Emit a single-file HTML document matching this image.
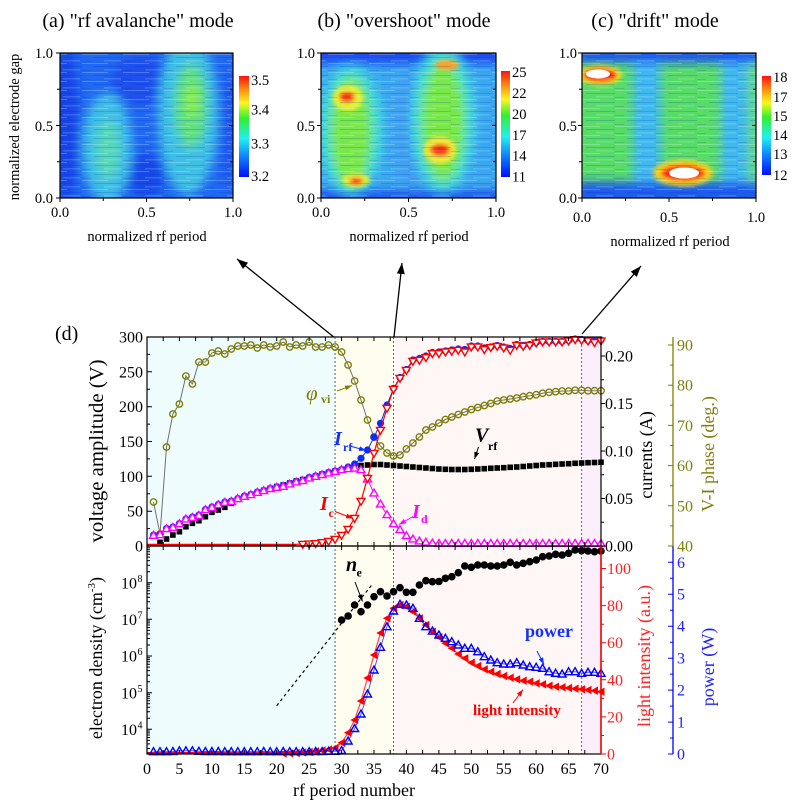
<!DOCTYPE html>
<html><head><meta charset="utf-8"><style>html,body{margin:0;padding:0;background:#fff}svg{display:block}</style></head>
<body>
<svg width="800" height="806" viewBox="0 0 800 806" xmlns="http://www.w3.org/2000/svg" font-family="'Liberation Serif', serif">
<defs>
<filter id="b5" x="-30%" y="-30%" width="160%" height="160%"><feGaussianBlur stdDeviation="5"/></filter>
<filter id="b2" x="-50%" y="-50%" width="200%" height="200%"><feGaussianBlur stdDeviation="2"/></filter>
<clipPath id="cA"><rect x="60" y="53" width="173" height="145"/></clipPath>
<clipPath id="cB"><rect x="321" y="53" width="175" height="145"/></clipPath>
<clipPath id="cC"><rect x="582" y="53" width="174" height="145"/></clipPath>
<pattern id="streak" width="41" height="9" patternUnits="userSpaceOnUse">
<rect x="0" y="0" width="26" height="1" fill="#fff" opacity="0.22"/>
<rect x="12" y="3" width="29" height="1" fill="#0020b0" opacity="0.18"/>
<rect x="22" y="6" width="17" height="1.5" fill="#fff" opacity="0.15"/>
<rect x="0" y="7" width="9" height="1" fill="#0020b0" opacity="0.15"/>
</pattern>
<linearGradient id="jet" x1="0" y1="0" x2="0" y2="1">
<stop offset="0" stop-color="#ff1010"/><stop offset="0.12" stop-color="#ff8010"/><stop offset="0.27" stop-color="#f8f820"/><stop offset="0.42" stop-color="#30f030"/><stop offset="0.62" stop-color="#20f0f0"/><stop offset="0.8" stop-color="#1080ff"/><stop offset="1" stop-color="#0010ff"/>
</linearGradient>
<marker id="mOl" markerUnits="userSpaceOnUse" markerWidth="12" markerHeight="12" refX="6" refY="6"><circle cx="6" cy="6" r="3.2" fill="none" stroke="#7f7f00" stroke-width="1.4"/></marker>
<marker id="mSq" markerUnits="userSpaceOnUse" markerWidth="12" markerHeight="12" refX="6" refY="6"><rect x="3.2" y="3.2" width="5.6" height="5.6" fill="#000"/></marker>
<marker id="mMa" markerUnits="userSpaceOnUse" markerWidth="12" markerHeight="12" refX="6" refY="6"><path d="M6 1.8L10 8.6H2Z" fill="#fff" stroke="#f0f" stroke-width="1.4"/></marker>
<marker id="mBc" markerUnits="userSpaceOnUse" markerWidth="12" markerHeight="12" refX="6" refY="6"><circle cx="6" cy="6" r="3.6" fill="#0a2cff"/></marker>
<marker id="mRd" markerUnits="userSpaceOnUse" markerWidth="12" markerHeight="12" refX="6" refY="6"><path d="M6 10.2L10 3.4H2Z" fill="#fff" stroke="#f00" stroke-width="1.4"/></marker>
<marker id="mKc" markerUnits="userSpaceOnUse" markerWidth="12" markerHeight="12" refX="6" refY="6"><circle cx="6" cy="6" r="3.8" fill="#000"/></marker>
<marker id="mRl" markerUnits="userSpaceOnUse" markerWidth="12" markerHeight="12" refX="6" refY="6"><path d="M1.8 6L9.5 1.8V10.2Z" fill="#f00"/></marker>
<marker id="mBt" markerUnits="userSpaceOnUse" markerWidth="12" markerHeight="12" refX="6" refY="6"><path d="M6 2L10 9H2Z" fill="none" stroke="#00f" stroke-width="1.4"/></marker>
<marker id="ahK" markerUnits="userSpaceOnUse" markerWidth="12" markerHeight="10" refX="11" refY="4" orient="auto"><path d="M0 0L11 4L0 8Z" fill="#000"/></marker>
<marker id="ahk" markerUnits="userSpaceOnUse" markerWidth="8" markerHeight="6" refX="7" refY="2.5" orient="auto"><path d="M0 0L7 2.5L0 5Z" fill="#000"/></marker>
<marker id="ahO" markerUnits="userSpaceOnUse" markerWidth="8" markerHeight="6" refX="7" refY="2.5" orient="auto"><path d="M0 0L7 2.5L0 5Z" fill="#7f7f00"/></marker>
<marker id="ahB" markerUnits="userSpaceOnUse" markerWidth="8" markerHeight="6" refX="7" refY="2.5" orient="auto"><path d="M0 0L7 2.5L0 5Z" fill="#1030ff"/></marker>
<marker id="ahR" markerUnits="userSpaceOnUse" markerWidth="8" markerHeight="6" refX="7" refY="2.5" orient="auto"><path d="M0 0L7 2.5L0 5Z" fill="#f00"/></marker>
<marker id="ahM" markerUnits="userSpaceOnUse" markerWidth="8" markerHeight="6" refX="7" refY="2.5" orient="auto"><path d="M0 0L7 2.5L0 5Z" fill="#f0f"/></marker>
</defs>

<!-- ===== Heatmap titles ===== -->
<text x="138" y="27" font-size="20" text-anchor="middle">(a) "rf avalanche" mode</text>
<text x="404" y="27" font-size="20" text-anchor="middle">(b) "overshoot" mode</text>
<text x="655" y="27" font-size="20" text-anchor="middle">(c) "drift" mode</text>

<!-- ===== Heatmap (a) ===== -->
<g clip-path="url(#cA)">
<rect x="60" y="53" width="173" height="145" fill="#2068f2"/>
<g filter="url(#b5)">
<ellipse cx="66" cy="125" rx="12" ry="80" fill="#1545e6"/>
<ellipse cx="145" cy="175" rx="20" ry="22" fill="#1848e8"/>
<ellipse cx="140" cy="80" rx="28" ry="25" fill="#1a50ec"/>
<ellipse cx="107" cy="148" rx="25" ry="55" fill="#3cbde6"/>
<ellipse cx="108" cy="150" rx="12" ry="30" fill="#55d8b8"/>
<ellipse cx="188" cy="115" rx="30" ry="80" fill="#3cc0e4"/>
<ellipse cx="191" cy="106" rx="16" ry="42" fill="#5fe07a"/>
<ellipse cx="192" cy="100" rx="7" ry="16" fill="#88ee44"/>
<ellipse cx="229" cy="130" rx="7" ry="60" fill="#1a55ee"/>
</g>
<rect x="60" y="53" width="173" height="145" fill="url(#streak)"/>
</g>
<rect x="60" y="53" width="173" height="145" fill="none" stroke="#000" stroke-width="1.2"/>
<path d="M60 53h-4M60 89.25h-3M60 125.5h-4M60 161.75h-3M60 198h-4M60 198v4M103.25 198v3M146.5 198v4M189.75 198v3M233 198v4M233 89.25h-3M233 125.5h-4M233 161.75h-3" stroke="#000" stroke-width="1"/>
<rect x="239" y="76" width="10" height="101" fill="url(#jet)"/>
<g font-size="14.5">
<text x="53" y="58" text-anchor="end">1.0</text><text x="53" y="131" text-anchor="end">0.5</text><text x="53" y="203" text-anchor="end">0.0</text>
<text x="60" y="217" text-anchor="middle">0.0</text><text x="146.5" y="217" text-anchor="middle">0.5</text><text x="233" y="217" text-anchor="middle">1.0</text>
<text x="251" y="85">3.5</text><text x="251" y="114.5">3.4</text><text x="251" y="148.5">3.3</text><text x="251" y="181">3.2</text>
<text x="147" y="241" text-anchor="middle">normalized rf period</text>
<text transform="translate(19,127) rotate(-90)" text-anchor="middle">normalized electrode gap</text>
</g>

<!-- ===== Heatmap (b) ===== -->
<g clip-path="url(#cB)">
<rect x="321" y="53" width="175" height="145" fill="#3aa8f0"/>
<g filter="url(#b5)">
<rect x="312" y="44" width="195" height="20" fill="#1a4cf0"/>
<rect x="312" y="190" width="195" height="15" fill="#2058f0"/>
<ellipse cx="410" cy="130" rx="15" ry="60" fill="#3f9ef2"/>
<ellipse cx="351" cy="130" rx="32" ry="64" fill="#40dcd8"/>
<ellipse cx="351" cy="132" rx="21" ry="55" fill="#78e84a"/>
<ellipse cx="443" cy="120" rx="32" ry="72" fill="#40dcd8"/>
<ellipse cx="443" cy="122" rx="22" ry="60" fill="#78e84a"/>
</g>
<g filter="url(#b2)">
<ellipse cx="348" cy="98" rx="15" ry="13" fill="#e8f030"/>
<ellipse cx="356" cy="180" rx="14" ry="7" fill="#e0f030"/>
<ellipse cx="347" cy="97" rx="8" ry="5.5" fill="#f43018"/>
<ellipse cx="356" cy="181" rx="7" ry="3.5" fill="#ff2818"/>
<ellipse cx="440" cy="150" rx="16" ry="14" fill="#f0e830"/>
<ellipse cx="440" cy="150" rx="10" ry="6" fill="#f42818"/>
<ellipse cx="447" cy="65" rx="12" ry="5" fill="#ffa020"/>
</g>
<rect x="321" y="53" width="175" height="145" fill="url(#streak)"/>
</g>
<rect x="321" y="53" width="175" height="145" fill="none" stroke="#000" stroke-width="1.2"/>
<path d="M321 53h-4M321 89.25h-3M321 125.5h-4M321 161.75h-3M321 198h-4M321 198v4M364.75 198v3M408.5 198v4M452.25 198v3M496 198v4M496 89.25h-3M496 125.5h-4M496 161.75h-3" stroke="#000" stroke-width="1"/>
<rect x="501" y="71" width="9" height="106" fill="url(#jet)"/>
<g font-size="14.5">
<text x="315" y="58" text-anchor="end">1.0</text><text x="315" y="131" text-anchor="end">0.5</text><text x="315" y="203" text-anchor="end">0.0</text>
<text x="321" y="217" text-anchor="middle">0.0</text><text x="408.5" y="217" text-anchor="middle">0.5</text><text x="496" y="217" text-anchor="middle">1.0</text>
<text x="512" y="77">25</text><text x="512" y="98">22</text><text x="512" y="119">20</text><text x="512" y="140">17</text><text x="512" y="160.5">14</text><text x="512" y="181.5">11</text>
<text x="409" y="241" text-anchor="middle">normalized rf period</text>
</g>

<!-- ===== Heatmap (c) ===== -->
<g clip-path="url(#cC)">
<rect x="582" y="53" width="174" height="145" fill="#58dc68"/>
<g filter="url(#b5)">
<rect x="633" y="62" width="28" height="122" fill="#40b8f0"/>
<rect x="721" y="62" width="27" height="122" fill="#40b8f0"/>
<rect x="750" y="62" width="10" height="122" fill="#60d890"/>
<rect x="575" y="44" width="190" height="19" fill="#1e58f0"/>
<rect x="575" y="182" width="190" height="22" fill="#1e58f0"/>
</g>
<g filter="url(#b2)">
<ellipse cx="600" cy="75" rx="22" ry="10" fill="#f0e020"/>
<ellipse cx="600" cy="75" rx="17" ry="7" fill="#ff2010"/>
<ellipse cx="683" cy="173" rx="30" ry="13" fill="#f0d020"/>
<ellipse cx="683" cy="173" rx="22" ry="8" fill="#ff2010"/>
</g>
<rect x="582" y="53" width="174" height="145" fill="url(#streak)"/>
<ellipse cx="598" cy="74" rx="12" ry="4.5" fill="#fff"/>
<ellipse cx="684" cy="173" rx="15" ry="5.5" fill="#fff"/>
</g>
<rect x="582" y="53" width="174" height="145" fill="none" stroke="#000" stroke-width="1.2"/>
<path d="M582 53h-4M582 89.25h-3M582 125.5h-4M582 161.75h-3M582 198h-4M582 198v4M625.5 198v3M669 198v4M712.5 198v3M756 198v4M756 89.25h-3M756 125.5h-4M756 161.75h-3" stroke="#000" stroke-width="1"/>
<rect x="762" y="76" width="9" height="99" fill="url(#jet)"/>
<g font-size="14.5">
<text x="577" y="58" text-anchor="end">1.0</text><text x="577" y="131" text-anchor="end">0.5</text><text x="577" y="203" text-anchor="end">0.0</text>
<text x="582" y="222" text-anchor="middle">0.0</text><text x="669" y="222" text-anchor="middle">0.5</text><text x="756" y="222" text-anchor="middle">1.0</text>
<text x="773" y="82">18</text><text x="773" y="102">17</text><text x="773" y="121">15</text><text x="773" y="140">14</text><text x="773" y="159">13</text><text x="773" y="180">12</text>
<text x="670" y="246" text-anchor="middle">normalized rf period</text>
</g>

<!-- ===== Big arrows ===== -->
<g stroke="#000" stroke-width="1.3" fill="none">
<line x1="335" y1="338" x2="237" y2="259" marker-end="url(#ahK)"/>
<line x1="394" y1="337" x2="402" y2="263" marker-end="url(#ahK)"/>
<line x1="582" y1="334" x2="641" y2="266" marker-end="url(#ahK)"/>
</g>

<text x="55" y="340" font-size="20">(d)</text>

<!-- ===== Backgrounds ===== -->
<rect x="147" y="337" width="188.1" height="417" fill="#effcfd"/>
<rect x="335.1" y="337" width="58.4" height="417" fill="#fffdf0"/>
<rect x="393.5" y="337" width="188.1" height="417" fill="#fff6f6"/>
<rect x="581.6" y="337" width="19.4" height="417" fill="#fbeffb"/>
<path d="M335.1 337V754M393.5 337V754M581.6 337V754" stroke="#666" stroke-width="1" stroke-dasharray="2,2"/>

<!-- ===== Upper panel data ===== -->
<polyline fill="none" stroke="#707070" stroke-width="1" marker-start="url(#mOl)" marker-mid="url(#mOl)" marker-end="url(#mOl)" points="153.5,502 160,534 166.5,447 172.9,414 179.4,404 185.9,376 192.4,384 198.9,362 205.4,362 211.9,353 218.3,351 224.8,354 231.3,349 237.8,346 244.3,346 250.8,345 257.3,348 263.7,345 270.2,347 276.7,346 283.2,342 289.7,347 296.2,345 302.7,346 309.2,342 315.6,347 322.1,347 328.6,345 335.1,347 341.6,352 348.1,365 354.6,381 361,400 367.5,420 374,437 380.5,446 387,453 393.5,456 400,455 406.4,449 412.9,443 419.4,437 425.9,430 432.4,427 438.9,423 445.4,419.5 451.8,417 458.3,414.5 464.8,412 471.3,409.5 477.8,407.5 484.3,405.5 490.8,403.5 497.2,401 503.7,400 510.2,399 516.7,398 523.2,396.7 529.7,395.7 536.2,394.7 542.6,393.3 549.1,392.3 555.6,391.7 562.1,391 568.6,391 575.1,390.3 581.6,390.3 588,390.7 594.5,390.7 601,390.7"/>

<polyline fill="none" stroke="none" marker-start="url(#mSq)" marker-mid="url(#mSq)" marker-end="url(#mSq)" points="160,542.3 166.5,539 172.9,535 179.4,531.7 185.9,526.7 192.4,523.3 198.9,520.7 205.4,516.7 211.9,512.3 218.3,510 224.8,507.3 231.3,503.3 237.8,499.3 244.3,496.7 250.8,494.5 257.3,492.3 263.7,490.3 270.2,488.3 276.7,486.5 283.2,485 289.7,483 296.2,481 302.7,479.5 309.2,477.5 315.6,476 322.1,474 328.6,472.5 335.1,471 341.6,469.5 348.1,468 354.6,467 361,465.5 367.5,465 374,464.5 380.5,464.5 387,465 393.5,465.5 400,466 406.4,466.5 412.9,467 419.4,467.5 425.9,468 432.4,468.5 438.9,469 445.4,469.3 451.8,469.5 458.3,469.5 464.8,469.5 471.3,469.3 477.8,469 484.3,468.7 490.8,468.3 497.2,468 503.7,467.7 510.2,467.3 516.7,467 523.2,466.5 529.7,466 536.2,465.5 542.6,465 549.1,464.7 555.6,464.3 562.1,464 568.6,463.7 575.1,463.3 581.6,463 588,462.7 594.5,462.5 601,462.3"/>

<polyline fill="none" stroke="#0a2cff" stroke-width="1" marker-start="url(#mBc)" marker-mid="url(#mBc)" marker-end="url(#mBc)" points="153.5,535 160,534.5 166.5,528.5 172.9,527 179.4,523.5 185.9,519 192.4,517 198.9,515 205.4,509.5 211.9,507 218.3,504.5 224.8,502 231.3,501 237.8,498.5 244.3,496 250.8,494.5 257.3,492 263.7,490.5 270.2,488.5 276.7,487 283.2,486 289.7,483.5 296.2,481.5 302.7,480.5 309.2,477.5 315.6,476 322.1,474.5 328.6,472.5 335.1,471 341.6,469.5 348.1,467 354.6,464 361,458.3 367.5,450 374,437.3 380.5,423.3 387,405 393.5,388.3 400,377.5 406.4,369.5 412.9,360 419.4,358.5 425.9,356 432.4,352.5 438.9,352 445.4,351 451.8,350 458.3,349 464.8,349.5 471.3,346 477.8,346 484.3,348 490.8,347 497.2,345.5 503.7,347 510.2,348.5 516.7,344.5 523.2,345.5 529.7,344.5 536.2,342.5 542.6,341.5 549.1,341.5 555.6,341.5 562.1,341.5 568.6,340.5 575.1,339 581.6,339.5 588,340.5 594.5,341 601,340"/>

<polyline fill="none" stroke="#f0f" stroke-width="1" marker-start="url(#mMa)" marker-mid="url(#mMa)" marker-end="url(#mMa)" points="153.5,535.7 160,535 166.5,529 172.9,527.7 179.4,524 185.9,519.3 192.4,517.7 198.9,515.7 205.4,510 211.9,507.7 218.3,505 224.8,502.7 231.3,501.7 237.8,499 244.3,496.7 250.8,495 257.3,492.7 263.7,491 270.2,489 276.7,487.7 283.2,486.7 289.7,484.3 296.2,482.3 302.7,481 309.2,478.3 315.6,476.7 322.1,475 328.6,473.3 335.1,471.7 341.6,470 348.1,469 354.6,468.5 361,470 367.5,479.3 374,493.3 380.5,504.3 387,515 393.5,524 400,530 406.4,536 412.9,539.3 419.4,541.3 425.9,542.5 432.4,543.3 438.9,543.7 445.4,543.7 451.8,543.7 458.3,543.7 464.8,543.7 471.3,543.7 477.8,543.7 484.3,543.7 490.8,543.7 497.2,543.7 503.7,543.7 510.2,543.7 516.7,543.7 523.2,543.7 529.7,543.7 536.2,543.7 542.6,543.7 549.1,543.7 555.6,543.7 562.1,543.7 568.6,543.7 575.1,543.7 581.6,543.7 588,543.7 594.5,543.7 601,543.7"/>

<polyline fill="none" stroke="#f00" stroke-width="1.2" points="147,544.3 296.2,544.3 302.7,544 309.2,543.7 315.6,543.3 322.1,542.3 328.6,541 335.1,539 341.6,535 348.1,529 354.6,518 361,501 367.5,478 374,453 380.5,430 387,408 393.5,389 400,378 406.4,370 412.9,361 419.4,360 425.9,357.3 432.4,353.3 438.9,353.3 445.4,351.7 451.8,351 458.3,350 464.8,351.7 471.3,346.7 477.8,346.7 484.3,349.3 490.8,347.3 497.2,346 503.7,347.7 510.2,350 516.7,345 523.2,346 529.7,345 536.2,342.7 542.6,341.7 549.1,341.7 555.6,341.7 562.1,341.7 568.6,340.7 575.1,339.3 581.6,340 588,340.7 594.5,342.3 601,340.7"/>
<path d="M147 545H296" stroke="#f00" stroke-width="2"/>
<polyline fill="none" stroke="none" marker-start="url(#mRd)" marker-mid="url(#mRd)" marker-end="url(#mRd)" points="302.7,544 309.2,543.7 315.6,543.3 322.1,542.3 328.6,541 335.1,539 341.6,535 348.1,529 354.6,518 361,501 367.5,478 374,453 380.5,430 387,408 393.5,389 400,378 406.4,370 412.9,361 419.4,360 425.9,357.3 432.4,353.3 438.9,353.3 445.4,351.7 451.8,351 458.3,350 464.8,351.7 471.3,346.7 477.8,346.7 484.3,349.3 490.8,347.3 497.2,346 503.7,347.7 510.2,350 516.7,345 523.2,346 529.7,345 536.2,342.7 542.6,341.7 549.1,341.7 555.6,341.7 562.1,341.7 568.6,340.7 575.1,339.3 581.6,340 588,340.7 594.5,342.3 601,340.7"/>

<!-- ===== Lower panel data ===== -->
<line x1="276.7" y1="705.7" x2="371.7" y2="585" stroke="#000" stroke-width="1.2" stroke-dasharray="3,3"/>
<polyline fill="none" stroke="#f44" stroke-width="1.2" points="147,753.7 276.7,753.7 283.2,753.5 289.7,753.3 296.2,753 302.7,752.5 309.2,752 315.6,751.3 322.1,750.5 328.6,749.5 335.1,748 341.6,742.7 348.1,732.7 354.6,720 361,701 367.5,678 374,655 380.5,633 387,618.3 393.5,608.3 400,605 406.4,606.7 412.9,611.7 419.4,618.3 425.9,625 432.4,631.7 438.9,637.3 445.4,643.3 451.8,648.3 458.3,654 464.8,658.3 471.3,662.7 477.8,666 484.3,669.3 490.8,671.7 497.2,674 503.7,676 510.2,677.7 516.7,679.3 523.2,680.7 529.7,681.7 536.2,683.3 542.6,684.3 549.1,685.7 555.6,686.7 562.1,687.3 568.6,688 575.1,688.7 581.6,689.3 588,690 594.5,690.7 601,691.7"/>
<path d="M147 753H280" stroke="#f00" stroke-width="2"/>
<polyline fill="none" stroke="#55f" stroke-width="1" points="153.5,751.7 160,751.7 166.5,751.7 172.9,751.5 179.4,750.8 185.9,750.8 192.4,750.8 198.9,751.3 205.4,751.5 211.9,751.5 218.3,751.5 224.8,751.7 231.3,751.7 237.8,751.7 244.3,751.7 250.8,751.7 257.3,751.7 263.7,751.5 270.2,751.7 276.7,751.7 283.2,751.5 289.7,751.7 296.2,751.7 302.7,751.7 309.2,751.7 315.6,751.5 322.1,751.5 328.6,751.3 335.1,751.3 341.6,750.5 348.1,741 354.6,728.5 361,714 367.5,694 374,670 380.5,647.3 387,626.7 393.5,611 400,604.3 406.4,605 412.9,608.3 419.4,618.3 425.9,626.7 432.4,631 438.9,635 445.4,638.3 451.8,641.7 458.3,645 464.8,648.3 471.3,648.3 477.8,651.7 484.3,656.7 490.8,660 497.2,662.7 503.7,664 510.2,664 516.7,662.7 523.2,665 529.7,666.7 536.2,667.3 542.6,668.3 549.1,671.7 555.6,673.3 562.1,674 568.6,671.7 575.1,671.7 581.6,673.3 588,672.3 594.5,672.3 601,673.3"/>
<polyline fill="none" stroke="none" marker-start="url(#mRl)" marker-mid="url(#mRl)" marker-end="url(#mRl)" points="283.2,753.5 289.7,753.3 296.2,753 302.7,752.5 309.2,752 315.6,751.3 322.1,750.5 328.6,749.5 335.1,748 341.6,742.7 348.1,732.7 354.6,720 361,701 367.5,678 374,655 380.5,633 387,618.3 393.5,608.3 400,605 406.4,606.7 412.9,611.7 419.4,618.3 425.9,625 432.4,631.7 438.9,637.3 445.4,643.3 451.8,648.3 458.3,654 464.8,658.3 471.3,662.7 477.8,666 484.3,669.3 490.8,671.7 497.2,674 503.7,676 510.2,677.7 516.7,679.3 523.2,680.7 529.7,681.7 536.2,683.3 542.6,684.3 549.1,685.7 555.6,686.7 562.1,687.3 568.6,688 575.1,688.7 581.6,689.3 588,690 594.5,690.7 601,691.7"/>
<polyline fill="none" stroke="none" marker-start="url(#mBt)" marker-mid="url(#mBt)" marker-end="url(#mBt)" points="153.5,751.7 160,751.7 166.5,751.7 172.9,751.5 179.4,750.8 185.9,750.8 192.4,750.8 198.9,751.3 205.4,751.5 211.9,751.5 218.3,751.5 224.8,751.7 231.3,751.7 237.8,751.7 244.3,751.7 250.8,751.7 257.3,751.7 263.7,751.5 270.2,751.7 276.7,751.7 283.2,751.5 289.7,751.7 296.2,751.7 302.7,751.7 309.2,751.7 315.6,751.5 322.1,751.5 328.6,751.3 335.1,751.3 341.6,750.5 348.1,741 354.6,728.5 361,714 367.5,694 374,670 380.5,647.3 387,626.7 393.5,611 400,604.3 406.4,605 412.9,608.3 419.4,618.3 425.9,626.7 432.4,631 438.9,635 445.4,638.3 451.8,641.7 458.3,645 464.8,648.3 471.3,648.3 477.8,651.7 484.3,656.7 490.8,660 497.2,662.7 503.7,664 510.2,664 516.7,662.7 523.2,665 529.7,666.7 536.2,667.3 542.6,668.3 549.1,671.7 555.6,673.3 562.1,674 568.6,671.7 575.1,671.7 581.6,673.3 588,672.3 594.5,672.3 601,673.3"/>
<polyline fill="none" stroke="none" marker-start="url(#mKc)" marker-mid="url(#mKc)" marker-end="url(#mKc)" points="341.6,620 348.1,616 354.6,605 361,611.7 367.5,605 374,596.7 380.5,591.7 387,596 393.5,591.7 400,587.7 406.4,592.3 412.9,592.3 419.4,585 425.9,580.7 432.4,581.7 438.9,581.5 445.4,578.3 451.8,576.7 458.3,572.7 464.8,566 471.3,567.3 477.8,565 484.3,565 490.8,566 497.2,566 503.7,565 510.2,562.3 516.7,565 523.2,563.3 529.7,561.7 536.2,560 542.6,556.7 549.1,556 555.6,554.3 562.1,555 568.6,553.3 575.1,550 581.6,550.7 588,551 594.5,551.7 601,551"/>

<!-- ===== Frames ===== -->
<rect x="147" y="337" width="454" height="209" fill="none" stroke="#000" stroke-width="1.2"/>
<rect x="147" y="546" width="454" height="208" fill="none" stroke="#000" stroke-width="1.2"/>
<line x1="601" y1="546" x2="601" y2="754" stroke="#f00" stroke-width="1.5"/>
<line x1="673" y1="337" x2="673" y2="546" stroke="#7f7f00" stroke-width="1.3"/>
<line x1="673" y1="546" x2="673" y2="754" stroke="#00f" stroke-width="1.3"/>

<!-- x ticks -->
<path stroke="#000" stroke-width="1" d="M163.2 337v4M179.4 337v4M195.6 337v4M211.9 337v4M228.1 337v4M244.3 337v4M260.5 337v4M276.7 337v4M292.9 337v4M309.1 337v4M325.4 337v4M341.6 337v4M357.8 337v4M374 337v4M390.2 337v4M406.4 337v4M422.6 337v4M438.9 337v4M455.1 337v4M471.3 337v4M487.5 337v4M503.7 337v4M519.9 337v4M536.1 337v4M552.4 337v4M568.6 337v4M584.8 337v4
M163.2 542v8M179.4 542v8M195.6 542v8M211.9 542v8M228.1 542v8M244.3 542v8M260.5 542v8M276.7 542v8M292.9 542v8M309.1 542v8M325.4 542v8M341.6 542v8M357.8 542v8M374 542v8M390.2 542v8M406.4 542v8M422.6 542v8M438.9 542v8M455.1 542v8M471.3 542v8M487.5 542v8M503.7 542v8M519.9 542v8M536.1 542v8M552.4 542v8M568.6 542v8M584.8 542v8
M163.2 754v-4M179.4 754v-4M195.6 754v-4M211.9 754v-4M228.1 754v-4M244.3 754v-4M260.5 754v-4M276.7 754v-4M292.9 754v-4M309.1 754v-4M325.4 754v-4M341.6 754v-4M357.8 754v-4M374 754v-4M390.2 754v-4M406.4 754v-4M422.6 754v-4M438.9 754v-4M455.1 754v-4M471.3 754v-4M487.5 754v-4M503.7 754v-4M519.9 754v-4M536.1 754v-4M552.4 754v-4M568.6 754v-4M584.8 754v-4"/>
<!-- left V ticks -->
<path stroke="#000" stroke-width="1" d="M147 528.6h3M147 511.2h5M147 493.7h3M147 476.3h5M147 458.9h3M147 441.5h5M147 424.1h3M147 406.7h5M147 389.2h3M147 371.8h5M147 354.4h3"/>
<!-- currents ticks -->
<path stroke="#000" stroke-width="1" d="M601 546h4M601 522.25h3M601 498.5h4M601 474.75h3M601 451h4M601 427.25h3M601 403.5h4M601 379.75h3M601 356h4"/>
<!-- phase ticks -->
<path stroke="#7f7f00" stroke-width="1" d="M673 546h-5M673 525.9h-3M673 505.8h-5M673 485.7h-3M673 465.6h-5M673 445.5h-3M673 425.4h-5M673 405.3h-3M673 385.2h-5M673 365.1h-3M673 345h-5"/>
<!-- log ticks -->
<path stroke="#000" stroke-width="1" d="M147 729.3h5M147 692.7h5M147 656h5M147 619.3h5M147 582.7h5
M147 748.5h3M147 743.9h3M147 740.4h3M147 737.5h3M147 735h3M147 732.9h3M147 731h3
M147 718.3h3M147 711.8h3M147 707.2h3M147 703.7h3M147 700.8h3M147 698.3h3M147 696.2h3M147 694.3h3
M147 681.7h3M147 675.2h3M147 670.6h3M147 667.1h3M147 664.2h3M147 661.7h3M147 659.6h3M147 657.7h3
M147 645h3M147 638.5h3M147 633.9h3M147 630.4h3M147 627.5h3M147 625h3M147 622.9h3M147 621h3
M147 608.3h3M147 601.8h3M147 597.2h3M147 593.7h3M147 590.8h3M147 588.3h3M147 586.2h3M147 584.3h3
M147 571.7h3M147 565.2h3M147 560.6h3M147 557.1h3M147 554.2h3M147 551.7h3M147 549.6h3M147 547.7h3"/>
<!-- red ticks -->
<path stroke="#f00" stroke-width="1" d="M601 754h5M601 735.5h3M601 716.9h5M601 698.4h3M601 679.8h5M601 661.3h3M601 642.7h5M601 624.2h3M601 605.6h5M601 587.1h3M601 568.5h5M601 550h3"/>
<!-- power ticks -->
<path stroke="#00f" stroke-width="1" d="M673 754h-5M673 738h-3M673 722.1h-5M673 706.1h-3M673 690.1h-5M673 674.1h-3M673 658.2h-5M673 642.2h-3M673 626.2h-5M673 610.2h-3M673 594.2h-5M673 578.3h-3M673 562.3h-5"/>

<!-- ===== Tick labels ===== -->
<g font-size="16">
<g text-anchor="end">
<text x="143" y="551.5">0</text><text x="143" y="516.7">50</text><text x="143" y="481.8">100</text><text x="143" y="447">150</text><text x="143" y="412.2">200</text><text x="143" y="377.3">250</text><text x="143" y="342.5">300</text>
<text x="137" y="735">10</text><text x="137" y="698.4">10</text><text x="137" y="661.7">10</text><text x="137" y="625">10</text><text x="137" y="588.4">10</text>
</g>
<g font-size="10">
<text x="137.5" y="728.5">4</text><text x="137.5" y="691.9">5</text><text x="137.5" y="655.2">6</text><text x="137.5" y="618.5">7</text><text x="137.5" y="581.9">8</text>
</g>
<text x="605" y="551.5">0.00</text><text x="605" y="504">0.05</text><text x="605" y="456.5">0.10</text><text x="605" y="409">0.15</text><text x="605" y="361.5">0.20</text>
<g fill="#7f7f10">
<text x="677" y="551.5">40</text><text x="677" y="511.3">50</text><text x="677" y="471.1">60</text><text x="677" y="430.9">70</text><text x="677" y="390.7">80</text><text x="677" y="350.5">90</text>
</g>
<g fill="#f22">
<text x="607" y="759.5">0</text><text x="607" y="722.4">20</text><text x="607" y="685.3">40</text><text x="607" y="648.2">60</text><text x="607" y="611.1">80</text><text x="607" y="574">100</text>
</g>
<g fill="#22f">
<text x="677" y="759.5">0</text><text x="677" y="727.5">1</text><text x="677" y="695.6">2</text><text x="677" y="663.6">3</text><text x="677" y="631.7">4</text><text x="677" y="599.7">5</text><text x="677" y="567.8">6</text>
</g>
<g text-anchor="middle">
<text x="147" y="774">0</text><text x="179.4" y="774">5</text><text x="211.9" y="774">10</text><text x="244.3" y="774">15</text><text x="276.7" y="774">20</text><text x="309.1" y="774">25</text><text x="341.6" y="774">30</text><text x="374" y="774">35</text><text x="406.4" y="774">40</text><text x="438.9" y="774">45</text><text x="471.3" y="774">50</text><text x="503.7" y="774">55</text><text x="536.1" y="774">60</text><text x="568.6" y="774">65</text><text x="601" y="774">70</text>
</g>
</g>

<!-- ===== Axis titles ===== -->
<g font-size="18">
<text transform="translate(103,451) rotate(-90)" text-anchor="middle" font-size="20" textLength="183" lengthAdjust="spacingAndGlyphs">voltage amplitude (V)</text>
<text transform="translate(102,658) rotate(-90)" text-anchor="middle">electron density (cm<tspan font-size="11" dy="-7">-3</tspan><tspan dy="7">)</tspan></text>
<text transform="translate(652,455) rotate(-90)" text-anchor="middle">currents  (A)</text>
<text transform="translate(714,454) rotate(-90)" text-anchor="middle" fill="#7f7f10">V-I phase (deg.)</text>
<text transform="translate(650,656) rotate(-90)" text-anchor="middle" fill="#f22">light intensity (a.u.)</text>
<text transform="translate(714,667) rotate(-90)" text-anchor="middle" fill="#22f">power (W)</text>
<text x="354" y="796" text-anchor="middle">rf period number</text>
</g>

<!-- ===== In-plot annotations ===== -->
<text x="306" y="400" font-size="21" font-style="italic" fill="#7f7f00">φ</text><text x="321" y="403" font-size="12" font-weight="bold" fill="#7f7f00">vi</text>
<line x1="337" y1="391" x2="352" y2="385.5" stroke="#7f7f00" stroke-width="1" marker-end="url(#ahO)"/>
<text x="334" y="445" font-size="20" font-weight="bold" font-style="italic" fill="#1030ff">I</text><text x="343" y="451" font-size="12" font-weight="bold" fill="#1030ff">rf</text>
<line x1="350" y1="446" x2="366" y2="450.5" stroke="#1030ff" stroke-width="1" marker-end="url(#ahB)"/>
<text x="320" y="510" font-size="20" font-weight="bold" font-style="italic" fill="#f00">I</text><text x="328.5" y="517" font-size="12" font-weight="bold" fill="#f00">c</text>
<line x1="335" y1="511.5" x2="353" y2="518.5" stroke="#f00" stroke-width="1" marker-end="url(#ahR)"/>
<text x="412" y="518" font-size="20" font-weight="bold" font-style="italic" fill="#f0f">I</text><text x="421" y="523" font-size="12" font-weight="bold" fill="#f0f">d</text>
<line x1="413" y1="516.5" x2="399" y2="524.5" stroke="#f0f" stroke-width="1" marker-end="url(#ahM)"/>
<text x="475" y="441.5" font-size="20" font-weight="bold" font-style="italic">V</text><text x="488" y="450" font-size="12" font-weight="bold">rf</text>
<line x1="478.5" y1="447" x2="474.5" y2="459" stroke="#000" stroke-width="1" marker-end="url(#ahk)"/>
<text x="346" y="571" font-size="20" font-weight="bold" font-style="italic">n</text><text x="356.5" y="576.5" font-size="12" font-weight="bold">e</text>
<line x1="355" y1="582" x2="362.5" y2="601.5" stroke="#000" stroke-width="1" marker-end="url(#ahk)"/>
<text x="525" y="637" font-size="18" font-weight="bold" fill="#1030ff">power</text>
<line x1="537" y1="651" x2="544" y2="664.5" stroke="#1030ff" stroke-width="1" marker-end="url(#ahB)"/>
<text x="473" y="715" font-size="15" font-weight="bold" fill="#f00">light intensity</text>
<line x1="513" y1="703" x2="523" y2="689.5" stroke="#f00" stroke-width="1" marker-end="url(#ahR)"/>
</svg>
</body></html>
